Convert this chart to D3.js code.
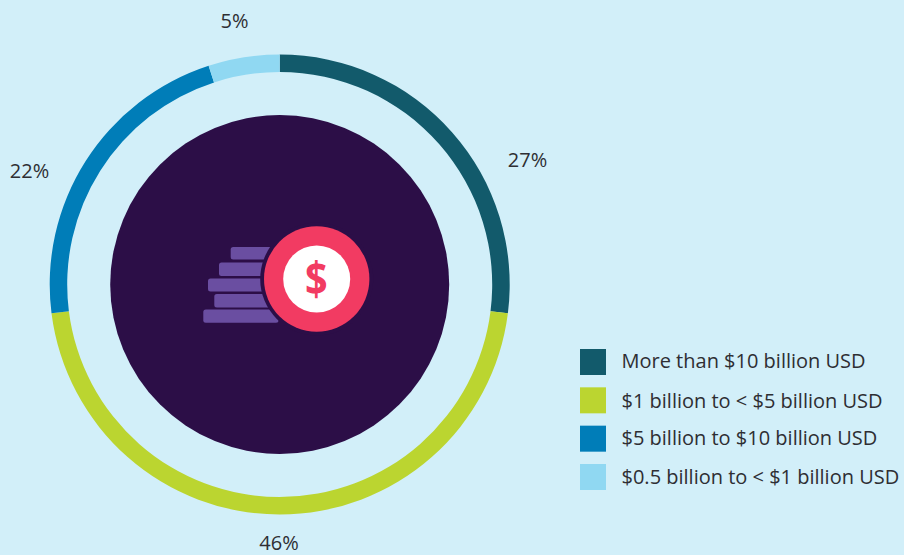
<!DOCTYPE html>
<html>
<head>
<meta charset="utf-8">
<script src="https://cdn.jsdelivr.net/npm/d3@7/dist/d3.min.js"></script>
<style>
html,body{margin:0;padding:0;background:#d2eff9;overflow:hidden}
svg{display:block}
text{font-family:"Open Sans",sans-serif;fill:#2e2e33}
</style>
</head>
<body>
<svg id="chart" width="904" height="555"></svg>
<script>
const categories = ["More than $10 billion USD", "$1 billion to < $5 billion USD", "$5 billion to $10 billion USD", "$0.5 billion to < $1 billion USD"];
const shares = [27, 46, 22, 5];
const colours = ["#125a6b", "#bbd530", "#007db8", "#90d8f2"];

const svg = d3.select("#chart");
const W = 904, H = 555, cx = 279.7, cy = 284.5;
svg.append("rect").attr("width", W).attr("height", H).attr("fill", "#d2eff9");

const g = svg.append("g").attr("transform", `translate(${cx},${cy})`);
const pie = d3.pie().sort(null).value(d => d)(shares);
const arc = d3.arc().innerRadius(212.5).outerRadius(230);
g.selectAll("path.slice").data(pie).join("path")
  .attr("class", "slice")
  .attr("d", arc)
  .attr("fill", (d, i) => colours[i]);

// central disc
g.append("circle").attr("r", 169.5).attr("fill", "#2c0e47");

// coin-stack icon
const icon = svg.append("g");
const barRows = [[230.7, 247, 12.6], [219, 262.6, 13.4], [208, 278.5, 13], [214.3, 294, 13.4], [203.3, 309.4, 13.4]];
icon.selectAll("rect").data(barRows).join("rect")
  .attr("x", d => d[0]).attr("y", d => d[1])
  .attr("width", d => 278.5 - d[0]).attr("height", d => d[2])
  .attr("rx", 2.5).attr("fill", "#6a4ea1");
const coinX = 316.7, coinY = 279;
icon.append("circle").attr("cx", coinX).attr("cy", coinY).attr("r", 56.5).attr("fill", "#2c0e47");
icon.append("circle").attr("cx", coinX).attr("cy", coinY).attr("r", 52.7).attr("fill", "#f23b62");
icon.append("circle").attr("cx", coinX).attr("cy", coinY).attr("r", 33.5).attr("fill", "#ffffff");
icon.append("text").attr("text-anchor", "middle")
  .attr("transform", `translate(${coinX - 0.5},${coinY + 16.5}) scale(0.86,1)`)
  .style("font-family", "'Open Sans',sans-serif").style("font-weight", 700).style("font-size", "46px")
  .style("fill", "#f23b62").text("$");

// percentage labels
const labelAt = [[527.5, 159.5], [279, 542], [29.5, 170.5], [234.5, 20.5]];
svg.selectAll("text.pct").data(pie).join("text")
  .attr("class", "pct")
  .attr("x", (d, i) => labelAt[i][0]).attr("y", (d, i) => labelAt[i][1])
  .attr("text-anchor", "middle").attr("dominant-baseline", "central")
  .style("font-size", "20px")
  .text(d => d.data + "%");

// legend
const legendY = d3.scalePoint().domain(categories).range([349, 464]);
const textNudge = [-0.4, 1.4, 0, 0.6];
const legend = svg.append("g");
legend.selectAll("rect").data(categories).join("rect")
  .attr("x", 580).attr("y", d => legendY(d)).attr("width", 26).attr("height", 26)
  .attr("fill", (d, i) => colours[i]);
legend.selectAll("text").data(categories).join("text")
  .attr("x", 621.5).attr("y", (d, i) => legendY(d) + 19 + textNudge[i])
  .style("font-size", "20px")
  .text(d => d);
</script>
</body>
</html>
